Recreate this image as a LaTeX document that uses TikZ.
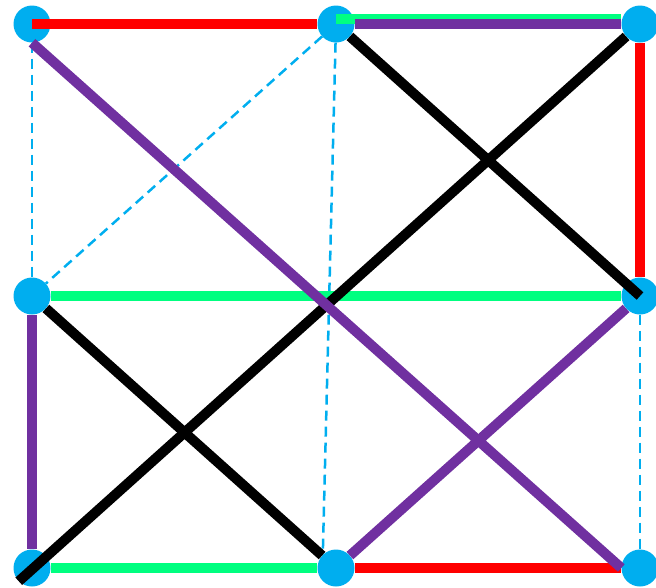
\documentclass[tikz,border=0pt]{standalone}
\usepackage{tikz}
\usetikzlibrary{positioning}

\definecolor{dotblue}{RGB}{0,174,239}
\definecolor{linegreen}{RGB}{0,255,128}
\definecolor{linepurple}{RGB}{112,48,160}

\begin{document}
\begin{tikzpicture}[
  x=1pt, y=-1pt,
  node distance=272pt and 304pt, on grid,
  dot/.style={circle, fill=dotblue, minimum size=37pt, inner sep=0pt},
  guide/.style={dotblue, line width=2.5pt, dash pattern=on 10pt off 6pt},
  redline/.style={red, line width=10pt},
  greenline/.style={linegreen, line width=10pt},
  purpleline/.style={linepurple, line width=10pt},
  blackline/.style={black, line width=10pt}
]
\useasboundingbox (0,0) rectangle (656,587);

\node[dot] (tl) at (32,24) {};
\node[dot, right=of tl] (tm) {};
\node[dot, right=of tm] (tr) {};
\node[dot, below=of tl] (ml) {};
\node[dot, below=of tr] (mr) {};
\node[dot, below=of ml] (bl) {};
\node[dot, right=of bl] (bm) {};
\node[dot, right=of bm] (br) {};

% dashed guides
\draw[guide] (tl) -- (ml);
\draw[guide] (tm) -- (ml);
\draw[guide] (tm) -- (bm.north west);
\draw[guide] (mr) -- (br);

\draw[greenline, transform canvas={yshift=5pt}] (tm.center) -- (tr);
\draw[greenline] (ml) -- (mr);
\draw[greenline] (bl) -- (bm);

\draw[redline] (tl.center) -- (tm.west);
\draw[redline] (tr) -- (mr);
\draw[redline] (bm) -- (br);

\draw[blackline] (tm) -- (mr.center);
\draw[blackline] (bl.south west) -- (tr);
\draw[blackline] (ml) -- (bm);

\draw[purpleline] (tm) -- (tr);
\draw[purpleline] (ml) -- (bl);
\draw[purpleline] (bm) -- (mr);
\draw[purpleline] (tl.south) -- (br.west);
\end{tikzpicture}
\end{document}
